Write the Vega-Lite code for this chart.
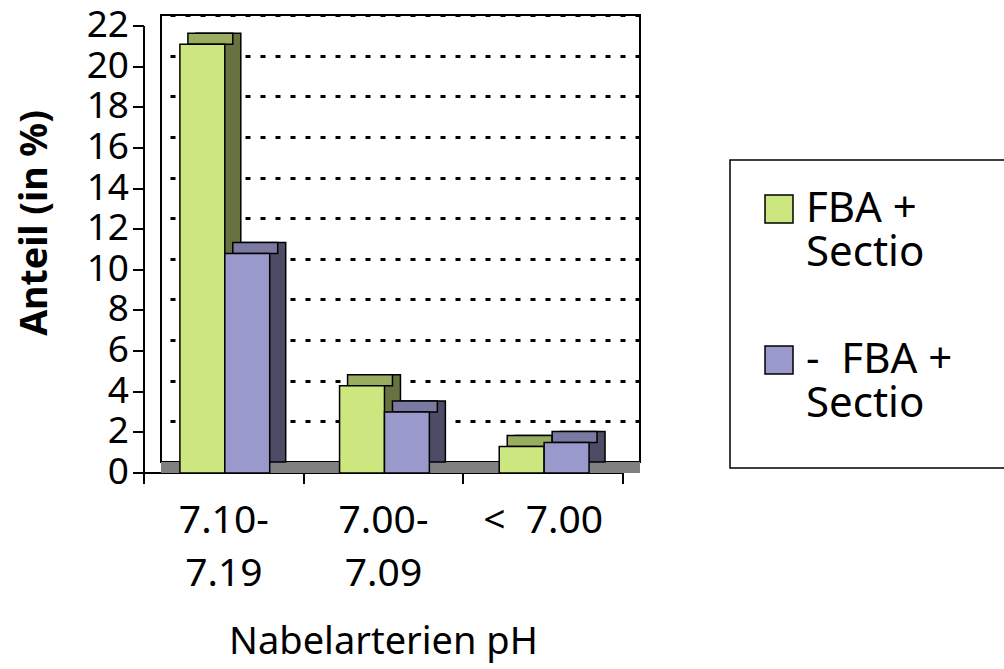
{
  "$schema": "https://vega.github.io/schema/vega-lite/v6.json",
  "width": 479,
  "height": 447,
  "autosize": {"type": "none"},
  "padding": {"left": 161, "top": 15, "right": 364, "bottom": 207},
  "background": "white",
  "config": {
    "view": {"stroke": "black", "strokeWidth": 2},
    "font": "Noto Sans",
    "legend": {
      "orient": "none",
      "legendX": 569,
      "legendY": 145,
      "strokeColor": "black",
      "strokeWidth": 1.5,
      "padding": 28,
      "symbolType": "square",
      "symbolSize": 784,
      "symbolStrokeColor": "black",
      "symbolStrokeWidth": 1.5,
      "labelFont": "Noto Sans",
      "labelFontSize": 42,
      "labelColor": "black",
      "labelOffset": 6,
      "labelLimit": 400,
      "rowPadding": 65
    }
  },
  "data": {
    "values": [
      {"ph": "7.10-|7.19", "series": "FBA + Sectio", "value": 21.1},
      {"ph": "7.10-|7.19", "series": "- FBA + Sectio", "value": 10.8},
      {"ph": "7.00-|7.09", "series": "FBA + Sectio", "value": 4.3},
      {"ph": "7.00-|7.09", "series": "- FBA + Sectio", "value": 3.0},
      {"ph": "<  7.00", "series": "FBA + Sectio", "value": 1.3},
      {"ph": "<  7.00", "series": "- FBA + Sectio", "value": 1.5}
    ]
  },
  "resolve": {"axis": {"y": "independent"}, "scale": {"xOffset": "independent"}},
  "layer": [
    {
      "mark": {"type": "rule", "color": "#808080", "strokeWidth": 11, "yOffset": 5.5},
      "encoding": {
        "y": {"datum": 0, "type": "quantitative", "scale": {"domain": [0, 22], "nice": false}, "axis": null}
      }
    },
    {
      "mark": {"type": "bar", "stroke": "black", "strokeWidth": 1.5},
      "encoding": {
        "x": {"field": "ph", "type": "nominal", "sort": null, "scale": {"paddingInner": 0, "paddingOuter": 0},
          "axis": {"orient": "bottom", "offset": 28, "translate": -17, "tickBand": "extent", "labelAngle": 0,
            "labelExpr": "datum.value == null ? '' : split(replace(datum.value, '  ', ' \u00a0'), '|')",
            "labelFont": "Noto Sans", "labelFontSize": 39, "labelLineHeight": 53, "labelColor": "black", "labelPadding": 18,
            "domainColor": "black", "domainWidth": 2, "tickColor": "black", "tickWidth": 2, "tickSize": 11,
            "title": "Nabelarterien pH", "titleFont": "Noto Sans", "titleFontSize": 38, "titleFontWeight": "normal", "titleColor": "black", "titlePadding": 30}},
        "xOffset": {"field": "series", "type": "nominal", "sort": null, "scale": {"domain": ["FBA + Sectio", "- FBA + Sectio"], "range": [34.9, 124.7]}},
        "y": {"field": "value", "type": "quantitative", "scale": {"domain": [0, 22], "nice": false},
          "axis": {"orient": "right", "labels": false, "ticks": false, "domain": false, "grid": true, "gridColor": "black", "gridDash": [5, 10], "gridWidth": 3, "gridOpacity": 1, "values": [2, 4, 6, 8, 10, 12, 14, 16, 18, 20, 22], "title": null}},
        "fill": {"condition": {"test": "datum.series == 'FBA + Sectio'", "value": "#667340"}, "value": "#4C4C66"}
      }
    },
    {
      "mark": {"type": "bar", "stroke": "black", "strokeWidth": 1.5, "y2Offset": 11},
      "encoding": {
        "x": {"field": "ph", "type": "nominal", "sort": null},
        "xOffset": {"field": "series", "type": "nominal", "sort": null, "scale": {"domain": ["FBA + Sectio", "- FBA + Sectio"], "range": [26.9, 116.7]}},
        "y": {"field": "value", "type": "quantitative", "axis": null},
        "y2": {"field": "value"},
        "fill": {"condition": {"test": "datum.series == 'FBA + Sectio'", "value": "#99AD60"}, "value": "#7A7AA3"}
      }
    },
    {
      "mark": {"type": "bar", "stroke": "black", "strokeWidth": 1.5, "opacity": 1, "yOffset": 11, "y2Offset": 11},
      "encoding": {
        "x": {"field": "ph", "type": "nominal", "sort": null},
        "xOffset": {"field": "series", "type": "nominal", "sort": null, "scale": {"domain": ["FBA + Sectio", "- FBA + Sectio"], "range": [18.9, 108.7]}},
        "y": {"field": "value", "type": "quantitative",
          "axis": {"orient": "left", "offset": 28, "translate": 11, "grid": false, "values": [0, 2, 4, 6, 8, 10, 12, 14, 16, 18, 20, 22],
            "labelFont": "Noto Sans", "labelFontSize": 37, "labelColor": "black", "labelPadding": 4,
            "domainColor": "black", "domainWidth": 2, "tickColor": "black", "tickWidth": 2, "tickSize": 11,
            "title": "Anteil (in %)", "titleFont": "Noto Sans", "titleFontSize": 37.5, "titleFontWeight": "bold", "titleColor": "black", "titlePadding": 32, "titleY": 197}},
        "color": {"field": "series", "type": "nominal", "sort": null,
          "scale": {"domain": ["FBA + Sectio", "- FBA + Sectio"], "range": ["#CCE680", "#9999CC"]},
          "legend": {
            "title": [".", "."],
            "titleOrient": "right",
            "titleAnchor": "start",
            "titleBaseline": "top",
            "titleColor": "white",
            "titlePadding": 30,
            "titleFontSize": 12,
            "titleLineHeight": 241,
            "labelExpr": "datum.value == 'FBA + Sectio' ? ['FBA +', 'Sectio'] : ['\u00a0-\u00a0\u00a0FBA +', 'Sectio']",
            "encode": {"labels": {
              "update": {"lineHeight": {"value": 50}, "baseline": {"value": "top"}, "dy": {"value": -9}}}}
          }}
      }
    }
  ]
}
